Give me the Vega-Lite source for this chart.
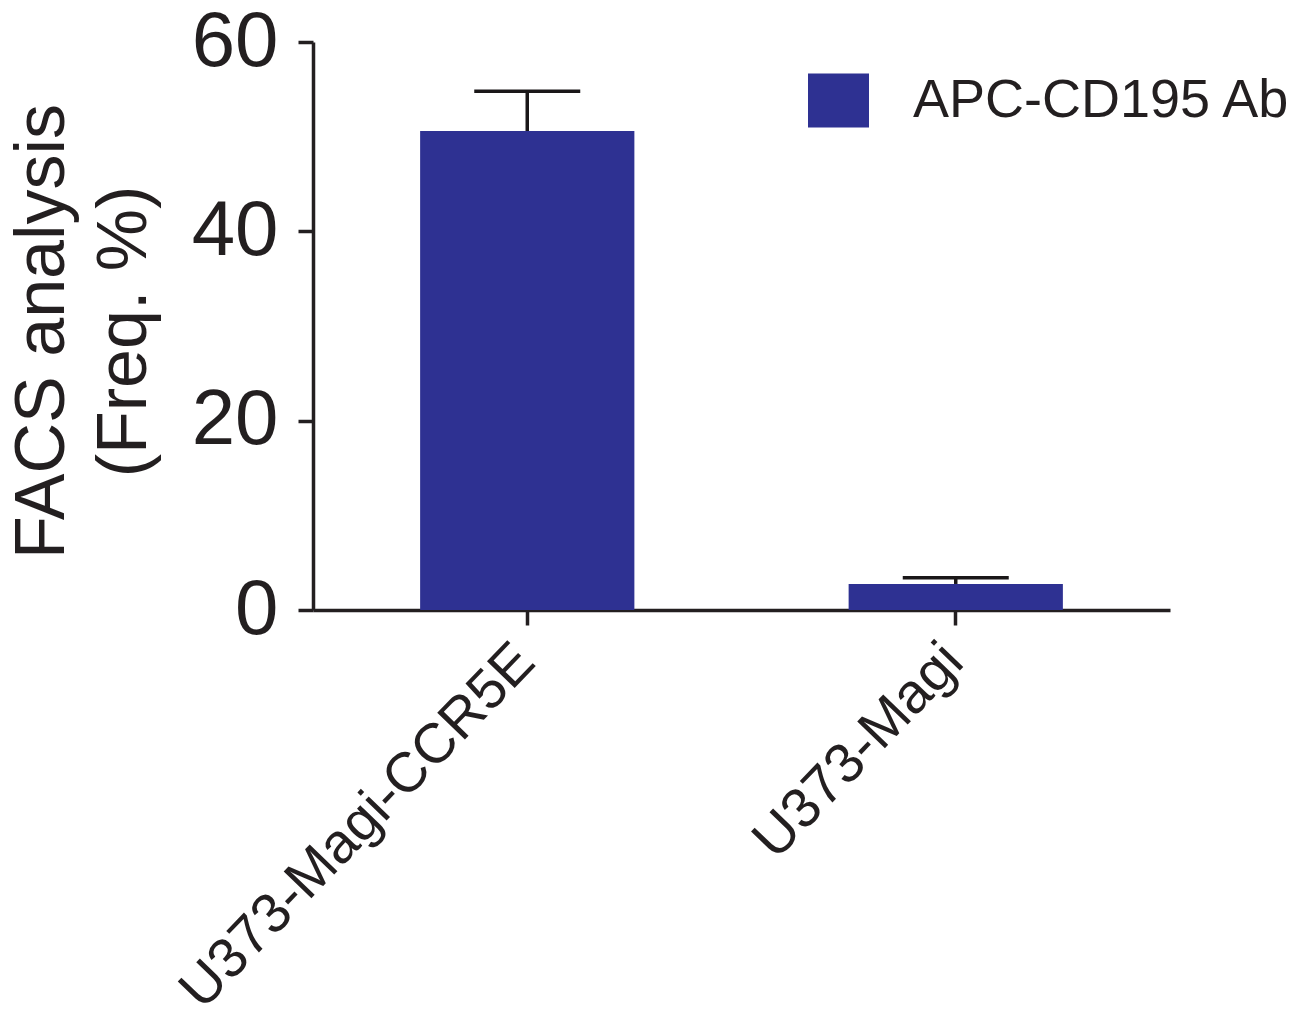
{
  "$schema": "https://vega.github.io/schema/vega-lite/v6.json",
  "autosize": {"type": "none"},
  "width": 857,
  "height": 568,
  "padding": {"left": 313, "top": 42, "right": 132, "bottom": 410},
  "background": "white",
  "config": {
    "view": {"stroke": null},
    "font": "Liberation Sans",
    "axis": {
      "domainColor": "#231f20",
      "tickColor": "#231f20",
      "labelColor": "#231f20",
      "titleColor": "#231f20",
      "domainWidth": 3.5,
      "tickWidth": 3.5,
      "tickSize": 15,
      "grid": false,
      "labelFont": "Liberation Sans",
      "titleFont": "Liberation Sans"
    },
    "legend": {"labelFont": "Liberation Sans"}
  },
  "data": {
    "values": [
      {"cell": "U373-Magi-CCR5E", "value": 50.6, "upper": 54.8, "series": "APC-CD195 Ab"},
      {"cell": "U373-Magi", "value": 2.75, "upper": 3.4, "series": "APC-CD195 Ab"}
    ]
  },
  "encoding": {
    "x": {
      "field": "cell",
      "type": "nominal",
      "sort": null,
      "scale": {"paddingInner": 0.5, "paddingOuter": 0.25},
      "axis": {
        "title": null,
        "labelAngle": -46,
        "labelAlign": "right",
        "labelBaseline": "middle",
        "labelFontSize": 56,
        "labelPadding": 27,
        "labelOffset": -2,
        "labelLimit": 0
      }
    }
  },
  "layer": [
    {
      "mark": {"type": "rule", "stroke": "#1a1718", "strokeWidth": 3.5},
      "encoding": {
        "y": {"field": "value", "type": "quantitative"},
        "y2": {"field": "upper"}
      }
    },
    {
      "mark": {"type": "tick", "color": "#1a1718", "size": 106, "thickness": 3.5, "orient": "horizontal", "opacity": 1},
      "encoding": {
        "y": {"field": "upper", "type": "quantitative"}
      }
    },
    {
      "mark": {"type": "bar"},
      "encoding": {
        "y": {
          "field": "value",
          "type": "quantitative",
          "scale": {"domain": [0, 60], "nice": false},
          "axis": {
            "values": [0, 20, 40, 60],
            "labelFontSize": 78,
            "labelPadding": 20,
            "title": ["FACS analysis", "(Freq. %)"],
            "titleFontSize": 70,
            "titleFontWeight": "normal",
            "titleLineHeight": 82,
            "titleAngle": -90,
            "titleAlign": "center",
            "titleBaseline": "alphabetic",
            "titleX": -250,
            "titleY": 289
          }
        },
        "color": {
          "field": "series",
          "type": "nominal",
          "scale": {"range": ["#2e3192"]},
          "legend": {
            "title": null,
            "orient": "none",
            "legendX": 495,
            "legendY": 28,
            "symbolType": "M-1,-0.885H1V0.885H-1Z",
            "symbolSize": 3721,
            "symbolStrokeWidth": 0,
            "symbolOpacity": 1,
            "labelFontSize": 54,
            "labelColor": "#231f20",
            "labelOffset": 44,
            "labelLimit": 0
          }
        }
      }
    }
  ]
}
